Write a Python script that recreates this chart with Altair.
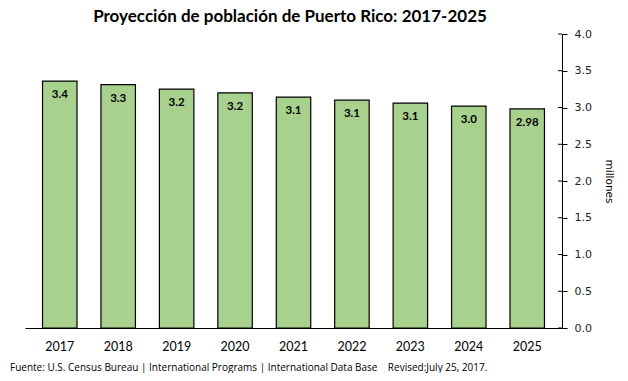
import altair as alt
import pandas as pd

years = ["2017", "2018", "2019", "2020", "2021", "2022", "2023", "2024", "2025"]
values = [3.36, 3.31, 3.25, 3.20, 3.14, 3.10, 3.06, 3.02, 2.98]
labels = ["3.4", "3.3", "3.2", "3.2", "3.1", "3.1", "3.1", "3.0", "2.98"]
y_ticks = [0, 0.5, 1, 1.5, 2, 2.5, 3, 3.5, 4]
title_text = "Proyección de población de Puerto Rico: 2017-2025"
footer_text = ("Fuente: U.S. Census Bureau | International Programs | International Data Base"
               "\u00a0\u00a0\u00a0\u00a0Revised:July 25, 2017.")

df = pd.DataFrame({"year": years, "value": values, "label": labels})
ticks_df = pd.DataFrame({"value": y_ticks})

x_axis = alt.Axis(labelAngle=0, ticks=False, domainColor="black",
                  labelFont="Lato", labelFontSize=12.5,
                  labelColor="black", labelPadding=12)
y_axis = alt.Axis(orient="right", values=y_ticks, labelOverlap=False,
                  format=".1f", grid=False, domainColor="black",
                  tickColor="black", tickSize=5, labelFont="DejaVu Sans",
                  labelFontSize=11, labelColor="#222", labelPadding=7,
                  titleAngle=90, titleFont="DejaVu Sans", titleFontSize=10.5,
                  titleFontWeight="normal", titleColor="black",
                  titlePadding=12)
x_scale = alt.Scale(paddingInner=0.41, paddingOuter=0.3)
y_scale = alt.Scale(domain=[0, 4])

x = alt.X("year:N", sort=years, title=None, scale=x_scale, axis=x_axis)
y = alt.Y("value:Q", title="millones", scale=y_scale, axis=y_axis)

bars = alt.Chart(df).mark_bar(color="#a9d18e", stroke="black", strokeWidth=1.2).encode(
    x=x, y=y)

inner_ticks = alt.Chart(ticks_df).mark_rule(color="black", strokeWidth=1).encode(
    y=y, x=alt.value(533), x2=alt.value(537))

text = alt.Chart(df).mark_text(baseline="top", dy=8, font="Lato",
                               fontWeight="bold", fontSize=11.5, color="black").encode(
    x=x, y=y, text="label:N")

title = alt.Chart(pd.DataFrame({"t": [title_text]})).mark_text(
    align="center", baseline="middle", font="Lato", fontSize=17, fontWeight="bold",
    color="black"
).encode(x=alt.value(265), y=alt.value(-17), text="t:N")

footer = alt.Chart(pd.DataFrame({"t": [footer_text]})).mark_text(
    align="left", baseline="middle", font="Open Sans", fontSize=10, color="black"
).encode(x=alt.value(-15), y=alt.value(334), text="t:N")

chart = alt.layer(bars, inner_ticks, text, title, footer).properties(
    width=537, height=294,
    autosize=alt.AutoSizeParams(type="none"),
    padding={"left": 17, "top": 26, "right": 56, "bottom": 45},
).configure_view(stroke=None)

chart.save("out.html", embed_options={"renderer": "svg", "actions": False})
